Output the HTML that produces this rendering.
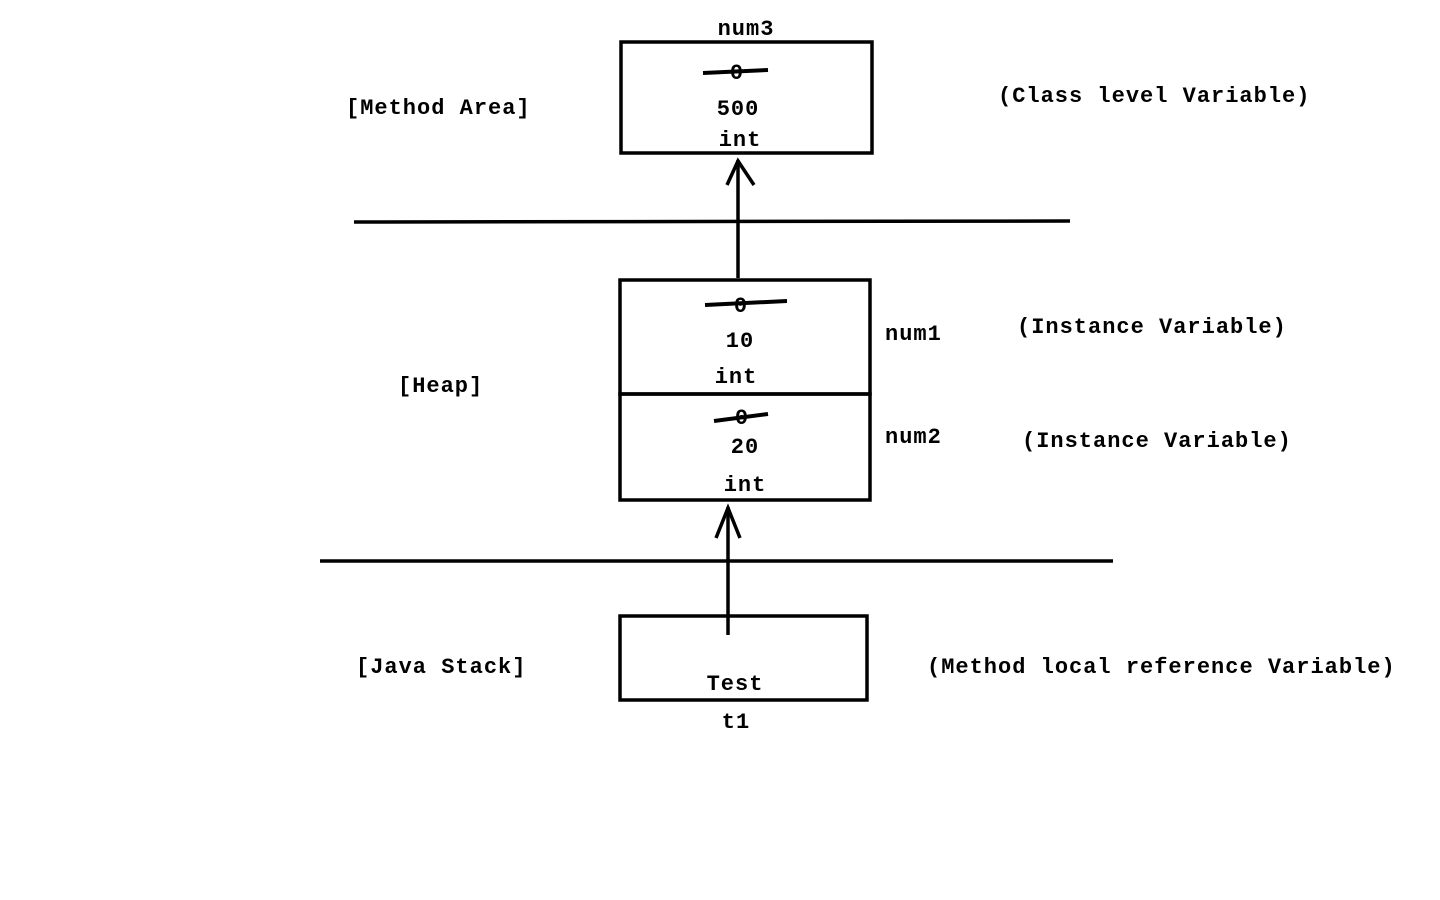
<!DOCTYPE html>
<html><head><meta charset="utf-8"><style>
html,body{margin:0;padding:0;background:#fff;width:1440px;height:900px;overflow:hidden}
text{font-family:"Liberation Mono",monospace;font-weight:bold;font-size:22px;letter-spacing:1px;fill:#000}
</style></head><body>
<svg width="1440" height="900" xmlns="http://www.w3.org/2000/svg">
<g fill="none" stroke="#000" stroke-width="3.5">
<rect x="621" y="42" width="251" height="111"/>
<line x1="354" y1="222" x2="1070" y2="221"/>
<line x1="738" y1="278" x2="738" y2="160"/>
<polyline points="727,185 738,161 754,185"/>
<rect x="620" y="280" width="250" height="114"/>
<rect x="620" y="394" width="250" height="106"/>
<line x1="320" y1="561" x2="1113" y2="561"/>
<line x1="728" y1="635" x2="728" y2="507"/>
<polyline points="716,538 728,508 740,538"/>
<rect x="620" y="616" width="247" height="84"/>
</g>
<g stroke="#000" stroke-width="4">
<line x1="703" y1="73" x2="768" y2="70"/>
<line x1="705" y1="305" x2="787" y2="301"/>
<line x1="714" y1="421" x2="768" y2="414"/>
</g>
<g text-anchor="middle">
<text x="746" y="35">num3</text>
<text x="737" y="79">0</text>
<text x="738" y="115">500</text>
<text x="740" y="146">int</text>
<text x="741" y="312">0</text>
<text x="740" y="347">10</text>
<text x="736" y="383">int</text>
<text x="742" y="424">0</text>
<text x="745" y="453">20</text>
<text x="745" y="491">int</text>
<text x="735" y="690">Test</text>
<text x="736" y="728">t1</text>
</g>
<text x="346" y="114">[Method Area]</text>
<text x="998" y="102">(Class level Variable)</text>
<text x="885" y="340">num1</text>
<text x="1017" y="333">(Instance Variable)</text>
<text x="398" y="392">[Heap]</text>
<text x="885" y="443">num2</text>
<text x="1022" y="447">(Instance Variable)</text>
<text x="356" y="673">[Java Stack]</text>
<text x="927" y="673">(Method local reference Variable)</text>
</svg>
</body></html>
